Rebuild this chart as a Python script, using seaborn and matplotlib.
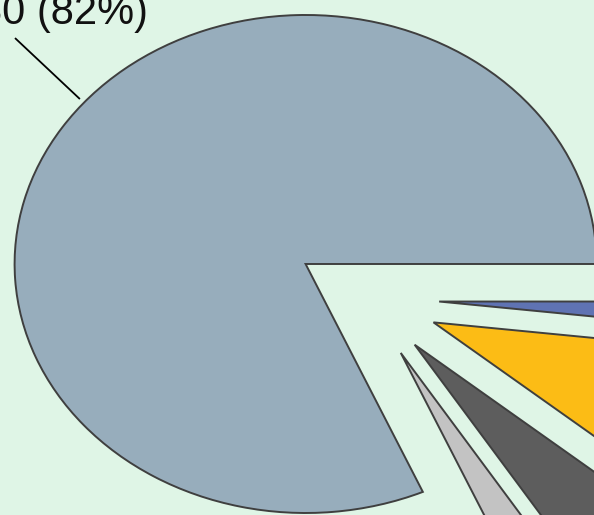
import numpy as np
import matplotlib
matplotlib.use("Agg")
import matplotlib.pyplot as plt
import seaborn as sns

# Share of records by group (counts)
categories = ["Group A", "Group B", "Group C", "Group D", "Group E"]
counts = [4080, 120, 250, 460, 90]
slice_colors = ["#97adbc", "#c3c3c3", "#5d5d5d", "#fcbc15", "#5f73b3"]

bg = "#dff5e6"
sns.set_theme(style="white", rc={"figure.facecolor": bg, "axes.facecolor": bg})
plt.rcParams["font.family"] = ["Liberation Sans", "DejaVu Sans"]

fig = plt.figure(figsize=(5.94, 5.15), dpi=100)
# the pie is drawn large, so that only its upper-left part sits inside the figure
ax = fig.add_axes([-0.1178, -0.3039, 1.4697, 1.4505])
ax.set_facecolor(bg)

wedges, _ = ax.pie(
    counts,
    colors=sns.color_palette(slice_colors),
    explode=[0.25] * len(counts),
    startangle=0,
    counterclock=True,
    wedgeprops=dict(edgecolor="#3f3f3f", linewidth=1.4),
)
ax.set_aspect("auto")
ax.set_xlim(-1.5, 1.5)
ax.set_ylim(-1.5, 1.5)
ax.axis("off")

# label for the largest slice, with a leader line from just outside its rim
total = sum(counts)
big = wedges[0]
ang = np.deg2rad(139.5)
cx, cy = big.center
rim = (cx + 1.02 * big.r * np.cos(ang), cy + 1.02 * big.r * np.sin(ang))
ax.plot([rim[0], rim[0] - 0.223], [rim[1], rim[1] + 0.245],
        color="black", lw=1.3, solid_capstyle="butt")
ax.text(-0.751, 1.10, f"{counts[0]:,} ({counts[0] / total:.0%})",
        ha="right", va="baseline", fontsize=30, color="#111111")

fig.savefig("out.png", dpi=100, facecolor=bg)
